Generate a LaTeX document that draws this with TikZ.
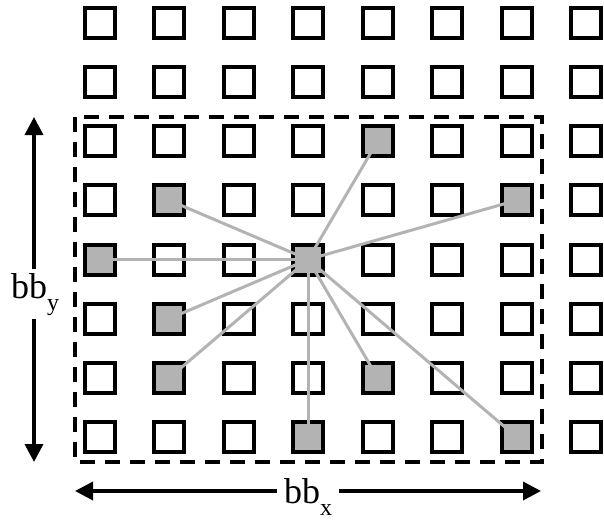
\documentclass[tikz,border=0pt]{standalone}
\usepackage{fontspec}
\setmainfont{Liberation Serif}
\usetikzlibrary{arrows.meta}
\definecolor{cellgray}{RGB}{179,179,179}
\newcommand{\lowsub}[1]{\raisebox{-12pt}{\fontsize{24}{24}\selectfont #1}}
\tikzset{
  cell/.style={draw=black, line width=4pt, fill=white, minimum size=30pt, inner sep=0pt, outer sep=0pt},
  hot/.style={cell, fill=cellgray},
  link/.style={draw=cellgray, line width=3pt},
  bbox/.style={draw=black, line width=4pt, dash pattern=on 15pt off 10pt},
  dimarrow/.style={line width=3.5pt, {Triangle[length=18pt,width=18pt]}-{Triangle[length=18pt,width=18pt]}},
  dimlabel/.style={fill=white, inner xsep=7pt, inner ysep=4pt, anchor=base, font=\fontsize{36}{40}\selectfont}
}
\begin{document}
\begin{tikzpicture}[x=1pt,y=-1pt]
\useasboundingbox (0,0) rectangle (604,519);
% grid
\foreach \c in {1,...,8}{
  \foreach \r in {1,...,8}{
    \node[cell] (s-\c-\r) at ({99.7+69.5*(\c-1)},{22.7+59.2*(\r-1)}) {};
  }
}
% highlighted cells
\foreach \c/\r in {5/3,2/4,7/4,1/5,4/5,2/6,2/7,5/7,4/8,7/8}{
  \node[hot] at (s-\c-\r) {};
}
% links
\foreach \c/\r in {5/3,7/4,1/5,2/4,2/6,2/7,5/7,4/8,7/8}{
  \draw[link] (s-4-5.center) -- (s-\c-\r.center);
}
% bounding box
\coordinate (tl) at (75,117);
\coordinate (br) at (542,462);
\draw[bbox] (tl) rectangle (br);
% dimension arrows
\coordinate (xl) at (75,491);
\coordinate (xr) at (541,491);
\coordinate (yt) at (34,117);
\coordinate (yb) at (34,462);
\draw[dimarrow] (xl) -- (xr);
\draw[dimarrow] (yt) -- (yb);
\node[dimlabel] (lx) at (308,503) {bb\lowsub{x}};
\node[dimlabel] (ly) at (35,298) {bb\lowsub{y}};
\end{tikzpicture}
\end{document}
